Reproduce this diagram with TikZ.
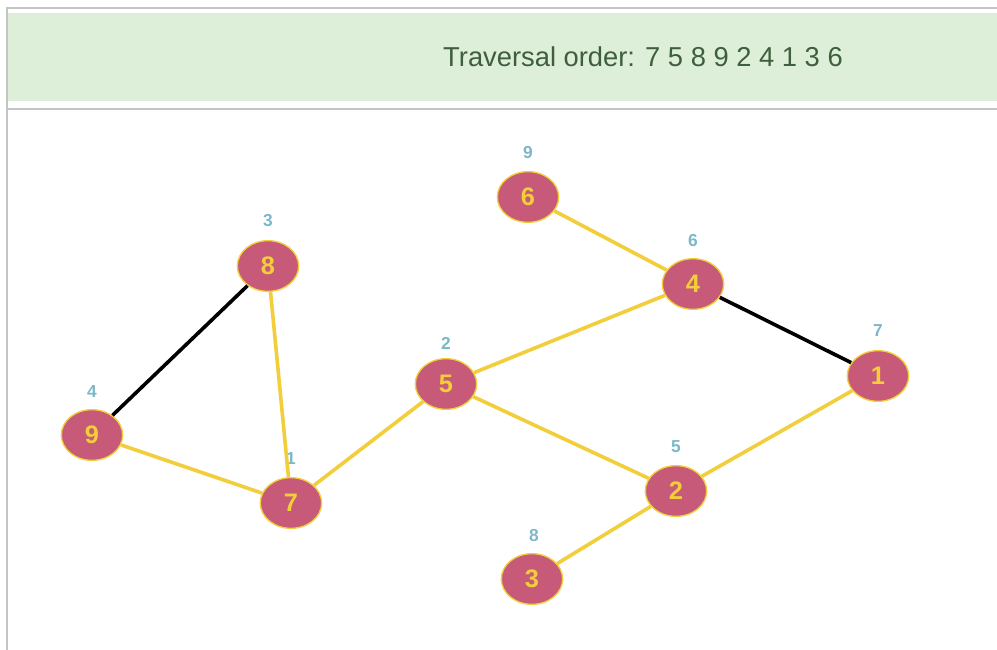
\documentclass[tikz,border=0pt]{standalone}
\usepackage{fontspec}
\setmainfont{Liberation Sans}
\usetikzlibrary{shapes.geometric}
\definecolor{vfill}{HTML}{C65A78}
\definecolor{vgold}{HTML}{F2CE3A}
\definecolor{ordcol}{HTML}{7DB8C8}
\definecolor{hdrbg}{HTML}{DDEFD8}
\definecolor{hdrtxt}{HTML}{3E5E3E}
\definecolor{frame}{HTML}{C4C4C4}
\begin{document}
\begin{tikzpicture}[x=0.75pt,y=-0.75pt,
  vertex/.style={ellipse,draw=vgold,line width=1pt,fill=vfill,
    minimum width=46pt,minimum height=38pt,inner sep=0pt,
    text=vgold,font=\fontsize{19}{19}\selectfont\bfseries},
  ordlabel/.style={text=ordcol,font=\fontsize{13}{13}\selectfont\bfseries},
  treeedge/.style={draw=vgold,line width=2.7pt},
  backedge/.style={draw=black,line width=2.7pt}]
  % canvas and frame
  \fill[white] (0,0) rectangle (997,650);
  \useasboundingbox (0,0) rectangle (997,650);
  \fill[hdrbg] (7,13) rectangle (997,101);
  \draw[frame,line width=1.2pt] (997,8) -- (7,8) -- (7,650);
  \draw[frame,line width=1.2pt] (7,109) -- (997,109);
  \node[text=hdrtxt,font=\fontsize{20.5}{20.5}\selectfont] (title) at (643,57)
    {Traversal order: 7 5 8 9 2 4 1 3 6};
  % vertices
  \node[vertex] (v6) at (528,197) {6};
  \node[vertex] (v8) at (268,266) {8};
  \node[vertex] (v4) at (693,284) {4};
  \node[vertex] (v1) at (878,376) {1};
  \node[vertex] (v5) at (446,384) {5};
  \node[vertex] (v9) at (92,435) {9};
  \node[vertex] (v7) at (291,503) {7};
  \node[vertex] (v2) at (676,491) {2};
  \node[vertex] (v3) at (532,579) {3};
  % visiting order above each vertex
  \node[ordlabel] (o6) at (528,153) {9};
  \node[ordlabel] (o8) at (268,221) {3};
  \node[ordlabel] (o4) at (693,241) {6};
  \node[ordlabel] (o1) at (878,331) {7};
  \node[ordlabel] (o5) at (446,343) {2};
  \node[ordlabel] (o9) at (92,392) {4};
  \node[ordlabel] (o7) at (291,459) {1};
  \node[ordlabel] (o2) at (676,447) {5};
  \node[ordlabel] (o3) at (534,536) {8};
  % edges between vertices
  \path[treeedge] (v6) -- (v4);
  \path[backedge] (v4) -- (v1);
  \path[treeedge] (v4) -- (v5);
  \path[treeedge] (v5) -- (v7);
  \path[treeedge] (v5) -- (v2);
  \path[treeedge] (v2) -- (v1);
  \path[treeedge] (v2) -- (v3);
  \path[backedge] (v8) -- (v9);
  \path[treeedge] (v8) -- (v7);
  \path[treeedge] (v9) -- (v7);
\end{tikzpicture}
\end{document}
